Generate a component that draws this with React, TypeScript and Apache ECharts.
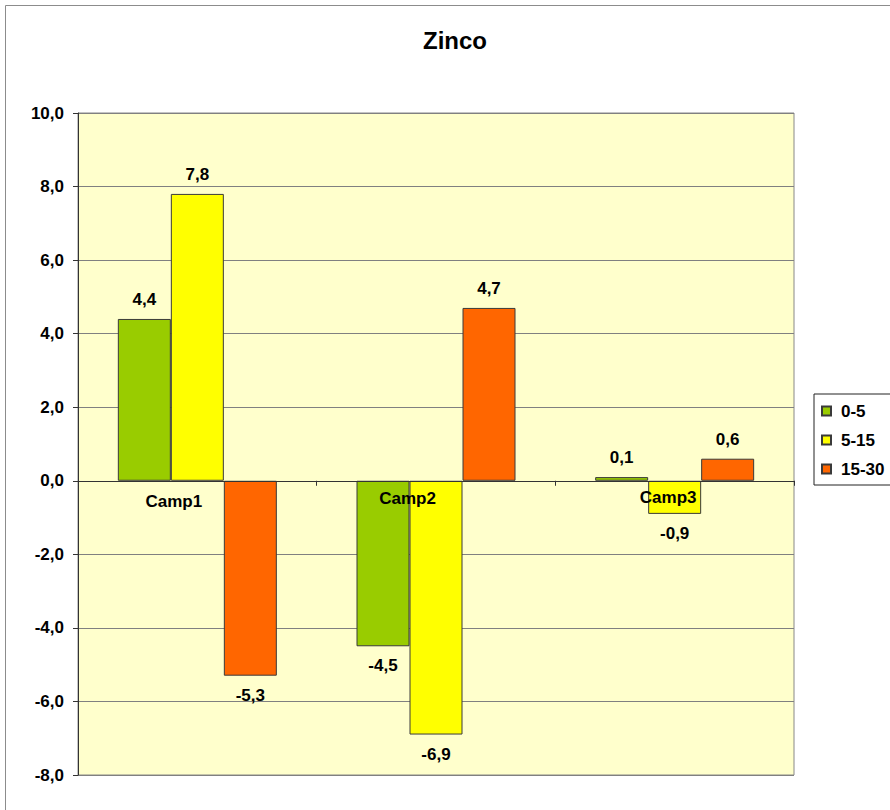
import React, { useEffect, useRef } from "react";
import * as echarts from "echarts";

// Zinc variation per sampling field and depth layer (cm)
const categories = ["Camp1", "Camp2", "Camp3"];
const seriesNames = ["0-5", "5-15", "15-30"];
const values0to5 = [4.4, -4.5, 0.1];
const values5to15 = [7.8, -6.9, -0.9];
const values15to30 = [-5.3, 4.7, 0.6];
const seriesColors = ["#99CC00", "#FFFF00", "#FF6600"];

const Y_MIN = -8;
const Y_MAX = 10;
const Y_STEP = 2;

const FONT = "'Liberation Sans', Arial, Helvetica, sans-serif";

const GRID_TOP = 113;
const GRID_BOTTOM = 35;
const CHART_H = 810;

const fmt = (v: number) => v.toFixed(1).replace(".", ",");

export default function App() {
  const ref = useRef<HTMLDivElement>(null);

  useEffect(() => {
    if (!ref.current) return;
    const chart = echarts.init(ref.current, undefined, { renderer: "svg" });

    const allValues = [values0to5, values5to15, values15to30];

    // the category axis sits on the zero line, with its labels just under it
    const plotH = CHART_H - GRID_TOP - GRID_BOTTOM;
    const zeroOffset = -(plotH * (0 - Y_MIN)) / (Y_MAX - Y_MIN);

    // per-category label nudges (text sits left of and under the zero line)
    const labelPads: number[][] = [
      [9, 47, 0, 0],
      [3, 57, 0, 0],
      [1, 13, 0, 0],
    ];
    const rich: Record<string, any> = {};
    labelPads.forEach((p, i) => {
      rich["c" + i] = {
        fontFamily: FONT,
        fontSize: 17,
        fontWeight: "bold",
        color: "#000",
        lineHeight: 20,
        padding: p,
      };
    });

    const series = seriesNames.map((name, si) => ({
      name,
      type: "bar",
      barWidth: 53,
      barGap: "0%",
      itemStyle: {
        color: seriesColors[si],
        borderColor: "#3a3a3a",
        borderWidth: 1,
      },
      label: {
        show: true,
        distance: 11,
        fontFamily: FONT,
        fontSize: 17,
        fontWeight: "bold",
        color: "#000",
        formatter: (p: any) => fmt(p.value),
      },
      data: allValues[si].map((v) => ({
        value: v,
        label: { position: v < 0 ? "bottom" : "top" },
      })),
    }));

    chart.setOption({
      animation: false,
      backgroundColor: "#ffffff",
      title: {
        text: "Zinco",
        left: 455,
        top: 28,
        textAlign: "center",
        padding: 0,
        textStyle: {
          fontFamily: FONT,
          fontSize: 24,
          fontWeight: "bold",
          color: "#000",
        },
      },
      legend: {
        orient: "vertical",
        left: 814,
        top: 394,
        padding: [7, 40, 6, 7],
        borderColor: "#222",
        borderWidth: 1,
        backgroundColor: "#ffffff",
        itemWidth: 9,
        itemHeight: 9,
        itemGap: 9,
        icon: "rect",
        data: seriesNames,
        textStyle: {
          fontFamily: FONT,
          fontSize: 17,
          fontWeight: "bold",
          color: "#000",
          lineHeight: 20,
          padding: [0, 0, 0, 5],
        },
      },
      grid: {
        left: 78,
        right: 96,
        top: GRID_TOP,
        bottom: GRID_BOTTOM,
        show: true,
        backgroundColor: "#FFFFCC",
        borderColor: "#888",
        borderWidth: 1,
      },
      xAxis: {
        type: "category",
        data: categories,
        position: "bottom",
        offset: zeroOffset,
        z: 10,
        axisLine: { onZero: false, lineStyle: { color: "#333", width: 1 } },
        axisTick: {
          show: true,
          alignWithLabel: false,
          inside: false,
          length: 5,
          lineStyle: { color: "#333" },
        },
        axisLabel: {
          margin: 6,
          interval: 0,
          formatter: (value: string, index: number) => `{c${index}|${value}}`,
          rich,
        },
        splitLine: { show: false },
      },
      yAxis: {
        type: "value",
        min: Y_MIN,
        max: Y_MAX,
        interval: Y_STEP,
        axisLine: { show: true, lineStyle: { color: "#333", width: 1 } },
        axisTick: { show: true, length: 5, lineStyle: { color: "#333" } },
        axisLabel: {
          margin: 14,
          fontFamily: FONT,
          fontSize: 17,
          fontWeight: "bold",
          color: "#000",
          formatter: (v: number) => fmt(v),
        },
        splitLine: { show: true, lineStyle: { color: "#808080", width: 1 } },
      },
      graphic: [
        {
          type: "rect",
          silent: true,
          z: 100,
          shape: { x: 5.5, y: 5.5, width: 1000, height: 1000 },
          style: { fill: "none", stroke: "#8c8c8c", lineWidth: 1 },
        },
      ],
      series,
    });

    return () => chart.dispose();
  }, []);

  return (
    <div
      ref={ref}
      style={{ position: "fixed", left: 0, top: 0, width: 890, height: 810 }}
    />
  );
}
